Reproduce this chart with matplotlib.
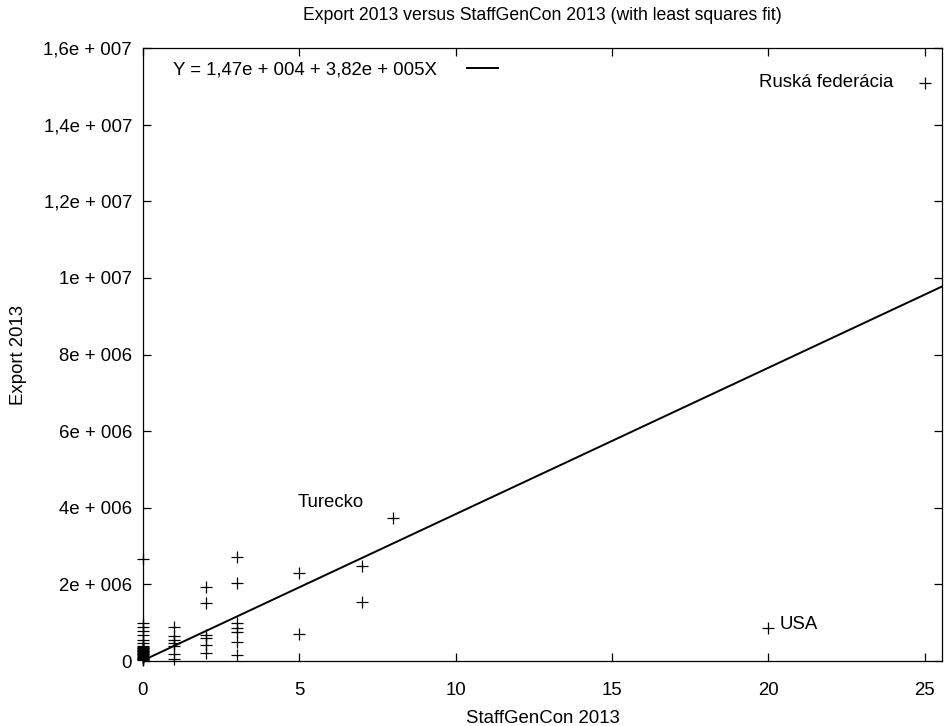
import numpy as np
import matplotlib
matplotlib.use("Agg")
import matplotlib.pyplot as plt
from matplotlib.ticker import FuncFormatter

plt.rcParams['font.family'] = ['Liberation Sans', 'DejaVu Sans']

# StaffGenCon 2013 (x) vs Export 2013 (y)
x_0 = [0] * 27
y_0 = [2660000, 990000, 890000, 780000, 680000, 550000, 470000,
       390000, 370000, 350000, 330000, 310000, 290000, 270000, 250000,
       230000, 210000, 190000, 170000, 150000, 130000, 110000, 90000,
       70000, 50000, 40000, 30000]
x_1 = [1, 1, 1, 1, 1, 1, 1]
y_1 = [900000, 660000, 550000, 470000, 380000, 170000, 60000]
x_2 = [2, 2, 2, 2, 2, 2]
y_2 = [1920000, 1510000, 690000, 600000, 420000, 200000]
x_3 = [3, 3, 3, 3, 3, 3, 3]
y_3 = [2710000, 2040000, 980000, 860000, 760000, 500000, 160000]
x_rest = [5, 5, 7, 7, 8, 20, 25]
y_rest = [2290000, 700000, 2480000, 1530000, 3740000, 850000, 15090000]

# labelled countries
labels = ["Turecko", "USA", "Ruská federácia"]
label_x = [8, 20, 25]
label_y = [3740000, 850000, 15090000]

# least squares fit, coefficients as printed in the key
intercept = 1.47e4
slope = 3.82e5

x_all = np.array(x_0 + x_1 + x_2 + x_3 + x_rest)
y_all = np.array(y_0 + y_1 + y_2 + y_3 + y_rest)

fs = 13.4

fig = plt.figure(figsize=(9.44, 7.26), dpi=100)
ax = fig.add_axes([143 / 944, 1 - 661 / 726, 799 / 944, 613 / 726])

x_max = 25.55
x_s = np.array([0, x_max])
ax.plot(x_s, intercept + slope * x_s, color="black", lw=1.4,
        label="Y = 1,47e + 004 + 3,82e + 005X")
ax.plot(x_all, y_all, linestyle="none", marker="+", ms=8, mew=0.9,
        color="black", clip_on=False)

# country labels
ax.text(label_x[0] - 0.95, label_y[0] + 400000, labels[0], ha="right",
        va="center", fontsize=fs)
ax.text(label_x[1] + 0.35, label_y[1] + 100000, labels[1], ha="left",
        va="center", fontsize=fs)
ax.text(label_x[2] - 1.0, label_y[2], labels[2], ha="right",
        va="center", fontsize=fs)


def fmt_y(v, pos):
    if v == 0:
        return "0"
    exp = int(np.floor(np.log10(abs(v)) + 1e-9))
    mant = v / 10 ** exp
    m = ("%g" % round(mant, 2)).replace(".", ",")
    return "%se + %03d" % (m, exp)


ax.yaxis.set_major_formatter(FuncFormatter(fmt_y))
ax.set_xlim(0, x_max)
ax.set_ylim(0, 1.6e7)
ax.set_xticks([0, 5, 10, 15, 20, 25])
ax.set_yticks(np.arange(0, 1.61e7, 2e6))
ax.tick_params(direction="in", length=6, width=0.9, top=True, right=True,
               labelsize=fs)
ax.tick_params(axis="y", pad=8)
ax.tick_params(axis="x", pad=15)
for s in ax.spines.values():
    s.set_linewidth(0.9)

ax.set_title("Export 2013 versus StaffGenCon 2013 (with least squares fit)",
             fontsize=12.7, pad=20.5)
ax.set_xlabel("StaffGenCon 2013", fontsize=fs, labelpad=8)
ax.set_ylabel("Export 2013", fontsize=fs, labelpad=12)

ax.legend(loc="upper left", frameon=False, markerfirst=False, fontsize=fs,
          handlelength=1.65, handletextpad=1.65, borderaxespad=0.3,
          bbox_to_anchor=(0.021, 1.0))

fig.savefig("out.png", dpi=100)
